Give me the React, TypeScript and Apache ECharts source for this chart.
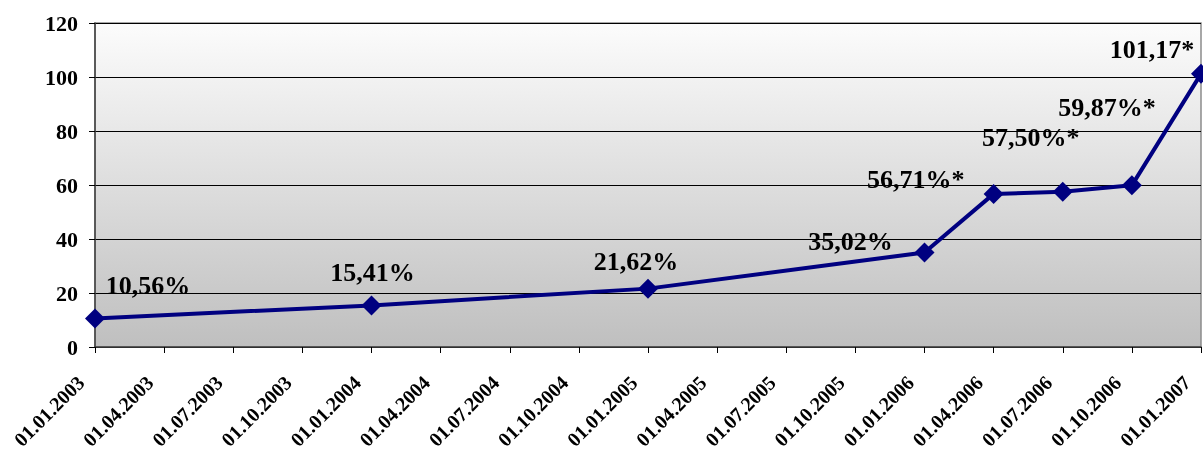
import React, { useEffect, useRef } from "react";
import * as echarts from "echarts";

const categories = [
  "01.01.2003", "01.04.2003", "01.07.2003", "01.10.2003",
  "01.01.2004", "01.04.2004", "01.07.2004", "01.10.2004",
  "01.01.2005", "01.04.2005", "01.07.2005", "01.10.2005",
  "01.01.2006", "01.04.2006", "01.07.2006", "01.10.2006",
  "01.01.2007",
];

const values: (number | null)[] = [
  10.56, null, null, null,
  15.41, null, null, null,
  21.62, null, null, null,
  35.02, 56.71, 57.5, 59.87,
  101.17,
];

const pointLabels: (string | null)[] = [
  "10,56%", null, null, null,
  "15,41%", null, null, null,
  "21,62%", null, null, null,
  "35,02%", "56,71%*", "57,50%*", "59,87%*",
  "101,17*",
];

// label offsets [dx, dy] relative to the default 'top' position
const labelOffsets: ([number, number] | null)[] = [
  [53, -5], null, null, null,
  [1, -5], null, null, null,
  [-12, 1], null, null, null,
  [-74, 17], [-78, 14], [-32, -26], [-25, -50],
  [-49, 4],
];

const yTicks = { min: 0, max: 120, interval: 20 };

export default function App() {
  const ref = useRef<HTMLDivElement>(null);
  useEffect(() => {
    if (!ref.current) return;
    const chart = echarts.init(ref.current, undefined, { renderer: "svg" });
    const font = "'Liberation Serif', 'Times New Roman', serif";
    chart.setOption({
      animation: false,
      grid: {
        left: 95,
        right: 2,
        top: 23,
        bottom: 105,
        outerBoundsMode: "none",
        containLabel: false,
        show: true,
        borderColor: "#8c8c8c",
        borderWidth: 1.5,
        backgroundColor: new echarts.graphic.LinearGradient(0, 0, 0, 1, [
          { offset: 0, color: "#fcfcfc" },
          { offset: 1, color: "#bfbfbf" },
        ]),
      },
      xAxis: {
        type: "category",
        data: categories,
        boundaryGap: false,
        axisLine: { show: true, lineStyle: { color: "#404040", width: 1.5 } },
        axisTick: { show: true, length: 6, lineStyle: { color: "#000" }, alignWithLabel: true },
        axisLabel: {
          rotate: 45,
          interval: 0,
          margin: 18,
          padding: [0, 20, 0, 0],
          color: "#000",
          fontFamily: font,
          fontWeight: "bold",
          fontSize: 20,
        },
        splitLine: { show: false },
      },
      yAxis: {
        type: "value",
        min: yTicks.min,
        max: yTicks.max,
        interval: yTicks.interval,
        axisLine: { show: true, lineStyle: { color: "#404040", width: 1.5 } },
        axisTick: { show: true, length: 6, lineStyle: { color: "#000" } },
        axisLabel: {
          margin: 17,
          color: "#000",
          fontFamily: font,
          fontWeight: "bold",
          fontSize: 22,
        },
        splitLine: { show: true, lineStyle: { color: "#000", width: 1 } },
      },
      series: [
        {
          type: "line",
          connectNulls: true,
          symbol: "diamond",
          symbolSize: 20,
          lineStyle: { color: "#000080", width: 4 },
          itemStyle: { color: "#000080" },
          data: values.map((v, i) =>
            v === null
              ? null
              : {
                  value: v,
                  label: {
                    show: true,
                    position: "top",
                    offset: labelOffsets[i] || [0, 0],
                    formatter: pointLabels[i] || "",
                    color: "#000",
                    fontFamily: font,
                    fontWeight: "bold",
                    fontSize: 26,
                  },
                }
          ),
        },
      ],
    });
    return () => chart.dispose();
  }, []);
  return (
    <div
      ref={ref}
      style={{ position: "fixed", left: 0, top: 0, width: 1203, height: 452 }}
    />
  );
}
